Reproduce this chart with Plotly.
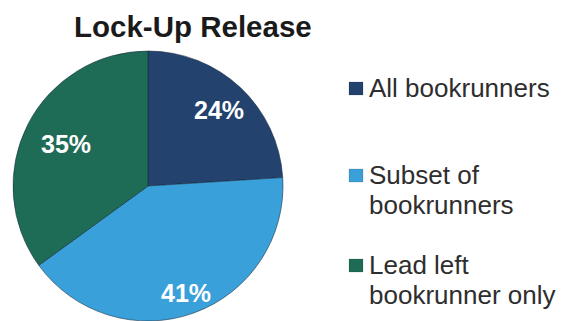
import math
import plotly.graph_objects as go

# Lock-up release split by bookrunner group
categories = ["All bookrunners", "Subset of bookrunners", "Lead left bookrunner only"]
legend_lines = [["All bookrunners"], ["Subset of", "bookrunners"], ["Lead left", "bookrunner only"]]
shares = [24, 41, 35]
colors = ["#23426e", "#3aa0da", "#1f6c56"]

W, H = 561, 321
# pie placement (pixels)
cx, cy, R = 148, 186, 135
# how far out along each slice bisector the percent label sits
label_r = [0.77, 0.84, 0.68]

fig = go.Figure(
    go.Pie(
        labels=categories,
        values=shares,
        sort=False,
        direction="clockwise",
        rotation=0,
        textinfo="none",
        hoverinfo="label+percent",
        showlegend=False,
        marker=dict(colors=colors, line=dict(color="rgba(20,40,60,0.55)", width=1)),
        domain=dict(x=[(cx - R) / W, (cx + R) / W],
                    y=[(H - cy - R) / H, (H - cy + R) / H]),
    )
)

annotations = []

# percent labels on slice bisectors
total = sum(shares)
cum = 0
for v, rf in zip(shares, label_r):
    mid = (cum + v / 2) / total * 2 * math.pi
    cum += v
    px = cx + rf * R * math.sin(mid)
    py = cy - rf * R * math.cos(mid)
    annotations.append(dict(
        x=px / W, y=1 - py / H, xref="paper", yref="paper",
        text=f"{round(v / total * 100)}%", showarrow=False,
        xanchor="center", yanchor="middle",
        font=dict(family="Liberation Sans", size=25, color="white", weight="bold"),
    ))

# title
annotations.append(dict(
    x=193 / W, y=1 - 26 / H, xref="paper", yref="paper",
    text="<b>Lock-Up Release</b>", showarrow=False,
    xanchor="center", yanchor="middle",
    font=dict(family="Liberation Sans", size=29.5, color="#1a1a1a"),
))

# legend: swatch + label lines per category
shapes = []
item_top = [82, 169, 259]
line_gap = 30
for lines, col, top in zip(legend_lines, colors, item_top):
    shapes.append(dict(
        type="rect", xref="paper", yref="paper",
        x0=349 / W, x1=363 / W, y0=1 - (top + 13) / H, y1=1 - top / H,
        fillcolor=col, line=dict(color="rgba(0,0,0,0.25)", width=0.5),
    ))
    for i, txt in enumerate(lines):
        annotations.append(dict(
            x=367 / W, y=1 - (top - 11 + i * line_gap) / H, xref="paper", yref="paper",
            text=txt, showarrow=False, align="left",
            xanchor="left", yanchor="top",
            font=dict(family="Liberation Sans", size=26, color="#2e2e2e"),
        ))

fig.update_layout(
    width=W, height=H,
    margin=dict(l=0, r=0, t=0, b=0),
    paper_bgcolor="white",
    plot_bgcolor="white",
    annotations=annotations,
    shapes=shapes,
)

fig.write_html("out.html")
